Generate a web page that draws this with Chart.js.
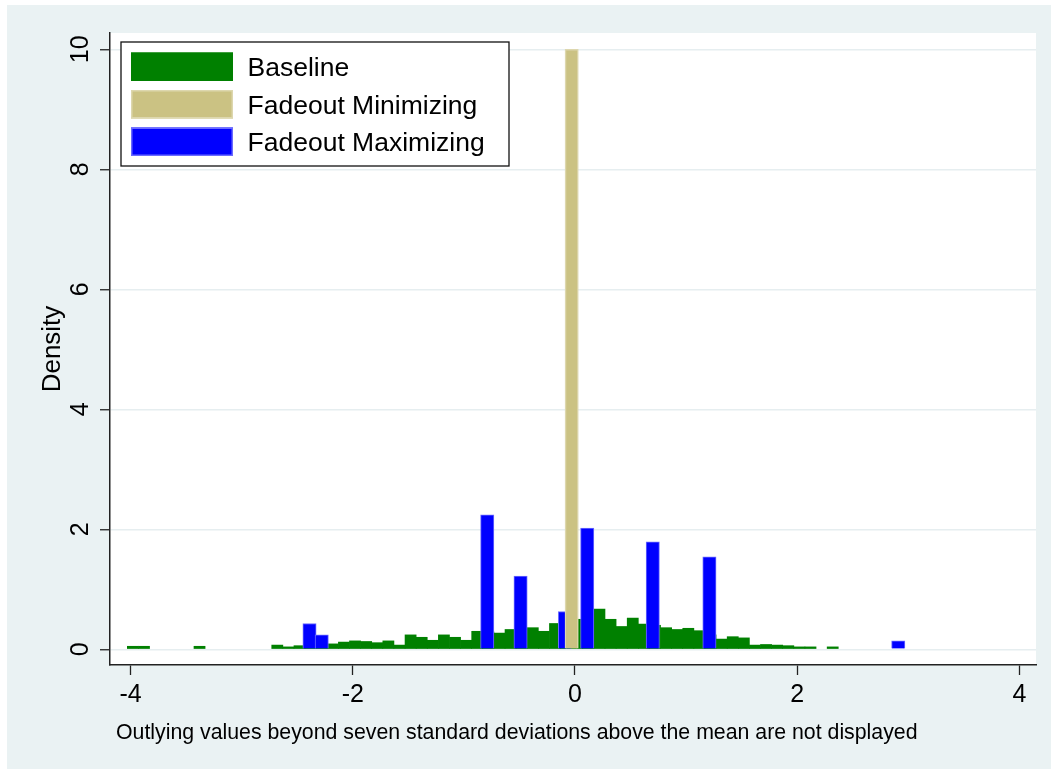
<!DOCTYPE html>
<html>
<head>
<meta charset="utf-8">
<script src="https://cdn.jsdelivr.net/npm/chart.js@4"></script>
<style>
  html, body { margin: 0; padding: 0; background: #ffffff; }
  #c { display: block; position: absolute; left: 0; top: 0; }
</style>
</head>
<body>
<canvas id="c" width="1051" height="769"></canvas>
<script>
// ---------------- data ----------------
const seriesLabels = ['Baseline', 'Fadeout Minimizing', 'Fadeout Maximizing'];

const baselineBins = [-3.98, -3.88, -3.38,
  -2.68, -2.58, -2.48, -2.38, -2.28, -2.18, -2.08, -1.98, -1.88, -1.78,
  -1.68, -1.58, -1.48, -1.38, -1.28, -1.18, -1.08, -0.98, -0.88, -0.78,
  -0.68, -0.58, -0.48, -0.38, -0.28, -0.18, -0.08, 0.02, 0.12, 0.22,
  0.32, 0.42, 0.52, 0.62, 0.72, 0.82, 0.92, 1.02, 1.12, 1.22,
  1.32, 1.42, 1.52, 1.62, 1.72, 1.82, 1.92, 2.02, 2.12,
  2.32];
const baselineDensity = [0.05, 0.05, 0.05,
  0.07, 0.04, 0.06, 0.06, 0.07, 0.09, 0.12, 0.14, 0.13, 0.11,
  0.14, 0.07, 0.24, 0.20, 0.15, 0.24, 0.20, 0.15, 0.30, 0.29,
  0.27, 0.33, 0.32, 0.36, 0.30, 0.43, 0.45, 0.50, 0.60, 0.67,
  0.50, 0.38, 0.52, 0.42, 0.40, 0.36, 0.33, 0.35, 0.31, 0.24,
  0.17, 0.21, 0.19, 0.07, 0.08, 0.07, 0.06, 0.04, 0.04,
  0.04];

const minimizingBins = [-0.03];
const minimizingDensity = [10.0];

const maximizingBins = [-2.39, -2.28, -0.79, -0.49, -0.09, 0.11, 0.70, 1.21, 2.91];
const maximizingDensity = [0.43, 0.24, 2.24, 1.22, 0.63, 2.02, 1.79, 1.54, 0.14];

const xTicks = [-4, -2, 0, 2, 4];
const yTicks = [0, 2, 4, 6, 8, 10];

const yTitle = 'Density';
const noteText = 'Outlying values beyond seven standard deviations above the mean are not displayed';

// ---------------- styles ----------------
const FONT = "'Liberation Sans', Arial, Helvetica, sans-serif";
const colors = {
  baseline: '#008000', baselineEdge: '#008000',
  minimizing: '#cbc283', minimizingEdge: '#ddd7ae',
  maximizing: '#0000ff', maximizingEdge: '#6b6bff'
};
const binWidths = { baseline: 0.1, minimizing: 0.12, maximizing: 0.12 };

function toPoints(xs, ys) { return xs.map((x, i) => ({ x: x, y: ys[i] })); }

Chart.defaults.font.family = FONT;
Chart.defaults.color = '#000';

const backgroundPlugin = {
  id: 'stataBackground',
  beforeDraw(chart) {
    const ctx = chart.ctx, a = chart.chartArea;
    ctx.save();
    ctx.fillStyle = '#ffffff';
    ctx.fillRect(0, 0, chart.width, chart.height);
    ctx.fillStyle = '#eaf2f3';
    ctx.fillRect(7, 5, chart.width - 7, chart.height - 5);
    ctx.fillStyle = '#ffffff';
    ctx.fillRect(a.left, a.top, a.right - a.left, a.bottom - a.top);
    ctx.restore();
  }
};

const legendPlugin = {
  id: 'stataLegend',
  afterDatasetsDraw(chart) {
    const ctx = chart.ctx;
    ctx.save();
    ctx.fillStyle = '#ffffff';
    ctx.fillRect(121, 42, 388, 124);
    ctx.strokeStyle = '#111';
    ctx.lineWidth = 1.3;
    ctx.strokeRect(121, 42, 388, 124);
    const sw = [
      { fill: colors.baseline, edge: colors.baselineEdge, top: 52.5 },
      { fill: colors.minimizing, edge: colors.minimizingEdge, top: 90 },
      { fill: colors.maximizing, edge: colors.maximizingEdge, top: 127.5 }
    ];
    ctx.font = '26.5px ' + FONT;
    ctx.textBaseline = 'alphabetic';
    ctx.textAlign = 'left';
    sw.forEach((s, i) => {
      ctx.fillStyle = s.fill;
      ctx.fillRect(131, s.top, 102, 28.5);
      ctx.strokeStyle = s.edge;
      ctx.lineWidth = 1.5;
      ctx.strokeRect(131.75, s.top + 0.75, 100.5, 27);
      ctx.fillStyle = '#000';
      ctx.fillText(seriesLabels[i], 247.5, s.top + 14.25 + 9.5);
    });
    ctx.restore();
  },
  afterDraw(chart) {
    const ctx = chart.ctx;
    ctx.save();
    ctx.font = '21.3px ' + FONT;
    ctx.fillStyle = '#000';
    ctx.textAlign = 'left';
    ctx.textBaseline = 'alphabetic';
    ctx.fillText(noteText, 116, 738.5);
    ctx.restore();
  }
};

const chart = new Chart(document.getElementById('c'), {
  type: 'bar',
  data: {
    datasets: [
      {
        label: seriesLabels[0],
        data: toPoints(baselineBins, baselineDensity),
        backgroundColor: colors.baseline,
        borderColor: colors.baselineEdge,
        borderWidth: 0,
        grouped: false,
        order: 3,
        binWidth: binWidths.baseline
      },
      {
        label: seriesLabels[1],
        data: toPoints(minimizingBins, minimizingDensity),
        backgroundColor: colors.minimizing,
        borderColor: colors.minimizingEdge,
        borderWidth: 1.5,
        grouped: false,
        order: 1,
        binWidth: binWidths.minimizing
      },
      {
        label: seriesLabels[2],
        data: toPoints(maximizingBins, maximizingDensity),
        backgroundColor: colors.maximizing,
        borderColor: colors.maximizingEdge,
        borderWidth: 1,
        grouped: false,
        order: 2,
        binWidth: binWidths.maximizing
      }
    ]
  },
  options: {
    responsive: false,
    animation: false,
    devicePixelRatio: 1,
    layout: { padding: { left: 0, top: 33, right: 15, bottom: 0 } },
    plugins: {
      legend: { display: false },
      tooltip: { enabled: false }
    },
    scales: {
      x: {
        type: 'linear',
        min: -4.186,
        max: 4.150,
        offset: false,
        afterBuildTicks: s => { s.ticks = xTicks.map(v => ({ value: v })); },
        afterFit: s => { s.height = 104; },
        grid: {
          offset: false,
          drawOnChartArea: false,
          drawTicks: true,
          tickLength: 10,
          tickColor: '#222',
          tickWidth: 1.3
        },
        border: { display: true, color: '#222', width: 1.5 },
        ticks: {
          font: { size: 25, family: FONT },
          color: '#000',
          padding: 5,
          maxRotation: 0,
          minRotation: 0,
          autoSkip: false
        }
      },
      y: {
        type: 'linear',
        min: -0.262,
        max: 10.272,
        afterBuildTicks: s => { s.ticks = yTicks.map(v => ({ value: v })); },
        afterFit: s => { s.width = 110; },
        grid: {
          color: '#e6eef0',
          lineWidth: 1.5,
          drawTicks: true,
          tickLength: 10,
          tickColor: '#222',
          tickWidth: 1.3
        },
        border: { display: true, color: '#222', width: 1.5 },
        ticks: {
          font: { size: 25, family: FONT },
          color: '#000',
          padding: 5,
          minRotation: 90,
          maxRotation: 90,
          crossAlign: 'center',
          autoSkip: false
        },
        title: {
          display: true,
          text: yTitle,
          font: { size: 26, family: FONT },
          color: '#000',
          padding: { top: 37, bottom: 0 }
        }
      }
    }
  },
  plugins: [backgroundPlugin, legendPlugin]
});

// Bar widths follow the bin widths through the x scale
(function applyBinWidths() {
  const xs = chart.scales.x;
  const pxPerUnit = Math.abs(xs.getPixelForValue(1) - xs.getPixelForValue(0));
  chart.data.datasets.forEach(ds => { ds.barThickness = ds.binWidth * pxPerUnit; });
  chart.update('none');
})();
</script>
</body>
</html>
